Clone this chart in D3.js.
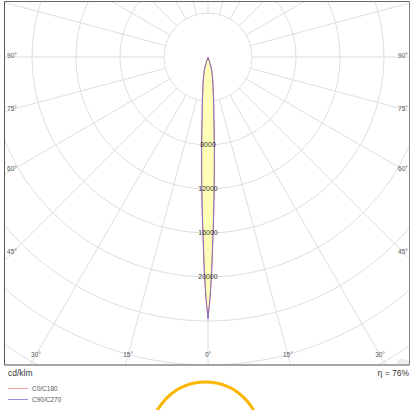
<!DOCTYPE html>
<html><head><meta charset="utf-8">
<script src="https://cdn.jsdelivr.net/npm/d3@7"></script>
<style>body{margin:0;background:#fff}svg{display:block}</style>
</head><body><svg id="c" width="413" height="410"></svg>
<script>
// ---- data ----
const gammaAngles = [0, 0.5, 1, 1.5, 2, 2.5, 3, 4, 5, 6, 7, 8, 10, 12, 14, 16, 18, 20, 25, 30, 45, 60, 90, 120, 150, 180];
const c0c180  = [23700, 22000, 19500, 16800, 14700, 12800, 11000, 8400, 6300, 5000, 4200, 3500, 2600, 2050, 1550, 1150, 500, 0, 0, 0, 0, 0, 0, 0, 0, 0];
const c90c270 = [23800, 21800, 19300, 16600, 14500, 12600, 10900, 8300, 6300, 5100, 4250, 3550, 2650, 2050, 1500, 1100, 450, 0, 0, 0, 0, 0, 0, 0, 0, 0];
const ringValues = [4000, 8000, 12000, 16000, 20000, 24000, 28000, 32000, 36000, 40000, 44000];
const ringLabels = [8000, 12000, 16000, 20000];
const spokeAngles = d3.range(0, 360, 15);
const sideLabels = [90, 75, 60, 45];
const bottomLabels = [30, 15, 0];
const seriesNames = ["C0/C180", "C90/C270"];
const seriesColors = ["#e87878", "#7464c8"];
const unitLabel = "cd/klm";
const effLabel = "η = 76%";

// ---- layout ----
const svg = d3.select("#c");
const cx = 208, cy = 57;
const frame = {x0: 4.5, y0: 1.5, x1: 409.5, y1: 365};
const inset = {x0: 12, x1: 403, y1: 355};
const r = d3.scaleLinear().domain([0, 4000]).range([0, 44]);
const font = "'Liberation Sans', Arial, sans-serif";

svg.append("defs").append("clipPath").attr("id", "clip")
  .append("rect").attr("x", frame.x0).attr("y", frame.y0)
  .attr("width", frame.x1 - frame.x0).attr("height", frame.y1 - frame.y0);

const plot = svg.append("g").attr("clip-path", "url(#clip)");
const grid = plot.append("g").attr("transform", `translate(${cx},${cy})`);
const gridColor = "#dedede";

// rings
grid.selectAll("circle.ring").data(ringValues).join("circle")
  .attr("class", "ring").attr("r", d => r(d))
  .attr("fill", "none").attr("stroke", gridColor).attr("stroke-width", 1);

// spokes
const rad = d => d * Math.PI / 180;
grid.selectAll("line.spoke").data(spokeAngles).join("line")
  .attr("x1", d => r(4000) * Math.sin(rad(d)))
  .attr("y1", d => r(4000) * Math.cos(rad(d)))
  .attr("x2", d => r(60000) * Math.sin(rad(d)))
  .attr("y2", d => r(60000) * Math.cos(rad(d)))
  .attr("stroke", gridColor).attr("stroke-width", 1);

// curves
function fullCurve(vals) {
  const pts = [];
  for (let i = gammaAngles.length - 1; i >= 0; i--) pts.push({a: Math.PI + rad(gammaAngles[i]), v: vals[i]});
  for (let i = 1; i < gammaAngles.length; i++) pts.push({a: Math.PI - rad(gammaAngles[i]), v: vals[i]});
  return pts;
}
const lineGen = d3.lineRadial().angle(d => d.a).radius(d => r(d.v)).curve(d3.curveLinear);
const beam = plot.append("g").attr("transform", `translate(${cx},${cy})`);
[c0c180, c90c270].forEach(vals => {
  beam.append("path").attr("d", lineGen(fullCurve(vals)) + "Z")
    .attr("fill", "#ffffb8").attr("stroke", "none");
});
[c0c180, c90c270].forEach((vals, i) => {
  beam.append("path").attr("d", lineGen(fullCurve(vals)) + "Z")
    .attr("fill", "none").attr("stroke", seriesColors[i]).attr("stroke-width", 0.9)
    .attr("stroke-opacity", 0.95);
});

// ring labels
plot.selectAll("text.rl").data(ringLabels).join("text")
  .attr("x", cx).attr("y", d => cy + r(d)).attr("dy", "0.35em")
  .attr("text-anchor", "middle").attr("font-family", font).attr("font-size", 7)
  .attr("fill", "#333").text(d => d);

// angle labels
const lab = plot.append("g").attr("font-family", font).attr("font-size", 6.5).attr("fill", "#555")
  .attr("text-anchor", "middle");
sideLabels.forEach(a => {
  const dy = (cx - inset.x0) * Math.cos(rad(a)) / Math.sin(rad(a));
  lab.append("text").attr("x", inset.x0).attr("y", cy + dy - 1).attr("dy", "0.35em").text(a + "°");
  lab.append("text").attr("x", inset.x1).attr("y", cy + dy - 1).attr("dy", "0.35em").text(a + "°");
});
bottomLabels.forEach(a => {
  const dx = (inset.y1 - cy) * Math.tan(rad(a));
  lab.append("text").attr("x", cx - dx).attr("y", inset.y1).attr("dy", "0.35em").text(a + "°");
  if (a !== 0) lab.append("text").attr("x", cx + dx).attr("y", inset.y1).attr("dy", "0.35em").text(a + "°");
});

// watermark
plot.append("text").attr("x", 397).attr("y", 364).attr("font-family", font).attr("font-size", 7)
  .attr("fill", "#d4d4d4").text("Win");

// frame
svg.append("line").attr("x1", frame.x0).attr("x2", frame.x1).attr("y1", frame.y0).attr("y2", frame.y0).attr("stroke", "#666");
svg.append("line").attr("x1", frame.x0).attr("x2", frame.x0).attr("y1", frame.y0).attr("y2", frame.y1).attr("stroke", "#555");
svg.append("line").attr("x1", frame.x1).attr("x2", frame.x1).attr("y1", frame.y0).attr("y2", frame.y1).attr("stroke", "#888");
svg.append("line").attr("x1", frame.x0).attr("x2", frame.x1).attr("y1", frame.y1).attr("y2", frame.y1).attr("stroke", "#888").attr("stroke-width", 1.5);

// footer texts
svg.append("text").attr("x", 8).attr("y", 376).attr("font-family", font).attr("font-size", 8.5)
  .attr("fill", "#333").text(unitLabel);
svg.append("text").attr("x", 409).attr("y", 376).attr("text-anchor", "end").attr("font-family", font)
  .attr("font-size", 8.5).attr("fill", "#333").text(effLabel);

// legend
const leg = svg.append("g");
seriesNames.forEach((n, i) => {
  const y = 388.5 + i * 11;
  leg.append("line").attr("x1", 8).attr("x2", 28).attr("y1", y).attr("y2", y)
    .attr("stroke", seriesColors[i]).attr("stroke-width", 1).attr("stroke-opacity", 0.7);
  leg.append("text").attr("x", 32).attr("y", y).attr("dy", "0.35em").attr("font-family", font)
    .attr("font-size", 6.5).attr("fill", "#555").text(n);
});

// orange circle icon
svg.append("circle").attr("cx", 205.5).attr("cy", 437).attr("r", 55)
  .attr("fill", "none").attr("stroke", "#fab600").attr("stroke-width", 3);
</script></body></html>
